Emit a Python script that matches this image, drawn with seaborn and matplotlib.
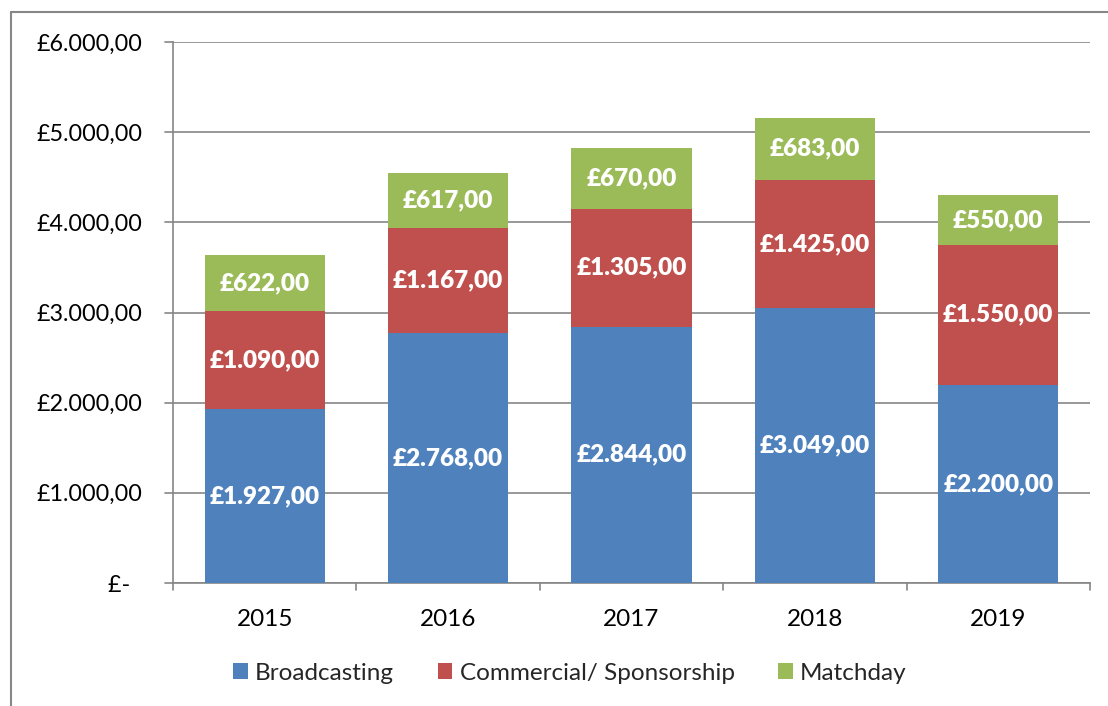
import matplotlib
matplotlib.use("Agg")
import matplotlib.pyplot as plt
from matplotlib.lines import Line2D
from matplotlib.patches import Patch
import seaborn as sns
import pandas as pd
import numpy as np

years = ["2015", "2016", "2017", "2018", "2019"]
broadcasting = [1927, 2768, 2844, 3049, 2200]
commercial = [1090, 1167, 1305, 1425, 1550]
matchday = [622, 617, 670, 683, 550]
series_names = ["Broadcasting", "Commercial/ Sponsorship", "Matchday"]
colors = ["#4F81BD", "#C0504D", "#9BBB59"]
yticks = [0, 1000, 2000, 3000, 4000, 5000, 6000]

def money(v):
    s = f"{v:,.2f}"
    s = s.replace(",", "X").replace(".", ",").replace("X", ".")
    return "£" + s

sns.set_theme(style="white")
plt.rcParams['font.family'] = ['Lato', 'DejaVu Sans']

fig = plt.figure(figsize=(11.08, 7.06), dpi=100)
ax = fig.add_axes([173/1108, 1-583/706, (1090-173)/1108, (583-42)/706])

df = pd.DataFrame({"year": years, "b": broadcasting, "c": commercial, "m": matchday})
bottoms = np.zeros(len(years))
for key, name, col in zip(["b", "c", "m"], series_names, colors):
    sns.barplot(data=df, x="year", y=key, bottom=bottoms, color=col, width=0.655,
                ax=ax, saturation=1, edgecolor="none", linewidth=0, zorder=3)
    cont = ax.containers[-1]
    ax.bar_label(cont, labels=[money(v) for v in df[key]], label_type="center",
                 color="white", fontsize=17.5, fontweight="heavy")
    bottoms = bottoms + df[key].values

ax.set_ylim(0, 6000)
ax.set_xlim(-0.5, 4.5)
ax.set_yticks(yticks)
ax.set_yticklabels([money(v) if v else "£-  " for v in yticks], fontsize=16.8)
ax.set_xticks(range(len(years)))
ax.set_xticklabels(years, fontsize=17.5)
ax.set_xlabel("")
ax.set_ylabel("")
gcol = "#868686"
ax.grid(axis="y", color=gcol, linewidth=1.2, zorder=0)
ax.set_axisbelow(True)
for s in ["top", "right"]:
    ax.spines[s].set_visible(False)
for s in ["left", "bottom"]:
    ax.spines[s].set_color(gcol)
    ax.spines[s].set_linewidth(1.2)
ax.tick_params(axis="y", length=0, pad=22, colors="black")
ax.tick_params(axis="x", length=0, pad=19, colors="black")
for yv in yticks:
    ax.plot([-0.009, 0], [yv, yv], transform=ax.get_yaxis_transform(), color=gcol,
            lw=1.2, clip_on=False)
for xb in np.arange(-0.5, 5.0, 1.0):
    ax.plot([xb, xb], [0, -0.013], transform=ax.get_xaxis_transform(), color=gcol,
            lw=1.2, clip_on=False)

handles = [Patch(facecolor=c, edgecolor="none") for c in colors]
fig.legend(handles, series_names, loc="center", bbox_to_anchor=(570/1108, 1-673/706),
           ncol=3, frameon=False, fontsize=17.5, handlelength=0.6, handleheight=0.6,
           handletextpad=0.3, columnspacing=1.8)

bx = 11/1108
by = 1-12/706
fig.add_artist(Line2D([bx, bx], [0, by], transform=fig.transFigure, color="#878787", lw=1.5))
fig.add_artist(Line2D([bx, 1], [by, by], transform=fig.transFigure, color="#878787", lw=1.5))

fig.savefig("out.png", dpi=100)
